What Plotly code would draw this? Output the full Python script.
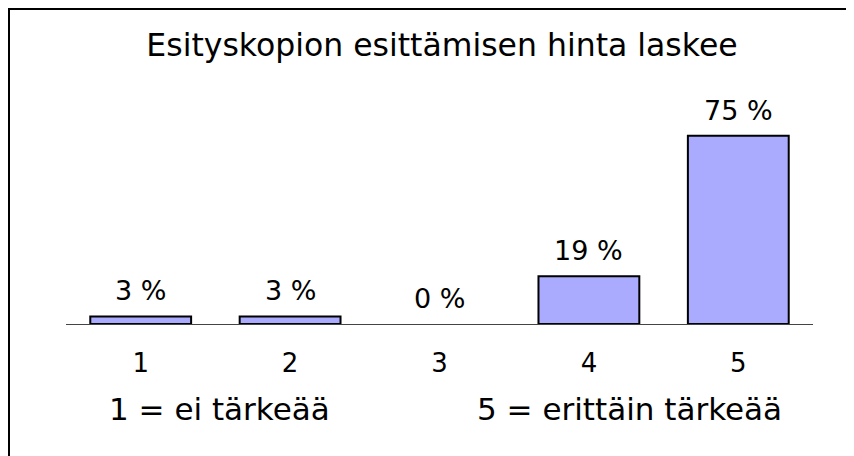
import plotly.graph_objects as go

categories = ["1", "2", "3", "4", "5"]
values = [3, 3, 0, 19, 75]
labels = ["3 %", "3 %", "0 %", "19 %", "75 %"]
title_text = "Esityskopion esittämisen hinta laskee"
scale_notes = ["1 = ei tärkeää", "5 = erittäin tärkeää"]

W, H = 854, 456
L, R, T, B = 58, 49, 65, 140
pw, ph = W - L - R, H - T - B

def px(x):
    return (x - L) / pw

def py(y):
    return (H - B - y) / ph

font = "DejaVu Sans"

fig = go.Figure()
fig.add_trace(go.Bar(
    x=categories, y=values, width=0.675,
    marker=dict(color="#aaaaff",
                line=dict(color="black", width=[2 if v > 0 else 0 for v in values])),
    hoverinfo="skip",
))

for i, (v, t) in enumerate(zip(values, labels)):
    fig.add_annotation(x=i, y=v, text=t, showarrow=False, yanchor="bottom",
                       yshift=8, font=dict(family=font, size=27, color="black"))

note_x = [211.5, 621]
for t, xx in zip(scale_notes, note_x):
    fig.add_annotation(x=px(xx), y=py(401), xref="paper", yref="paper", text=t,
                       showarrow=False, xanchor="center", yanchor="middle",
                       font=dict(family=font, size=31, color="black"))

shapes = [
    dict(type="line", xref="paper", yref="paper", x0=px(1), x1=px(1), y0=py(H), y1=py(0),
         line=dict(color="black", width=2)),
    dict(type="line", xref="paper", yref="paper", x0=px(0), x1=px(W), y0=py(1), y1=py(1),
         line=dict(color="black", width=2)),
]

fig.update_layout(
    width=W, height=H,
    margin=dict(l=L, r=R, t=T, b=B, autoexpand=False),
    paper_bgcolor="white", plot_bgcolor="white",
    showlegend=False,
    title=dict(text=title_text, x=434 / W, xanchor="center", y=1 - 37 / H, yanchor="middle",
               font=dict(family=font, size=31.5, color="black")),
    xaxis=dict(type="category", range=[-0.5, 4.5],
               showline=True, linecolor="#444444", linewidth=1, showgrid=False, zeroline=False,
               ticks="", tickfont=dict(family=font, size=26, color="black"),
               ticklabelstandoff=16, fixedrange=True),
    yaxis=dict(range=[0, 100], visible=False, fixedrange=True),
    shapes=shapes,
)

fig.write_html("out.html", config={"displayModeBar": False})
